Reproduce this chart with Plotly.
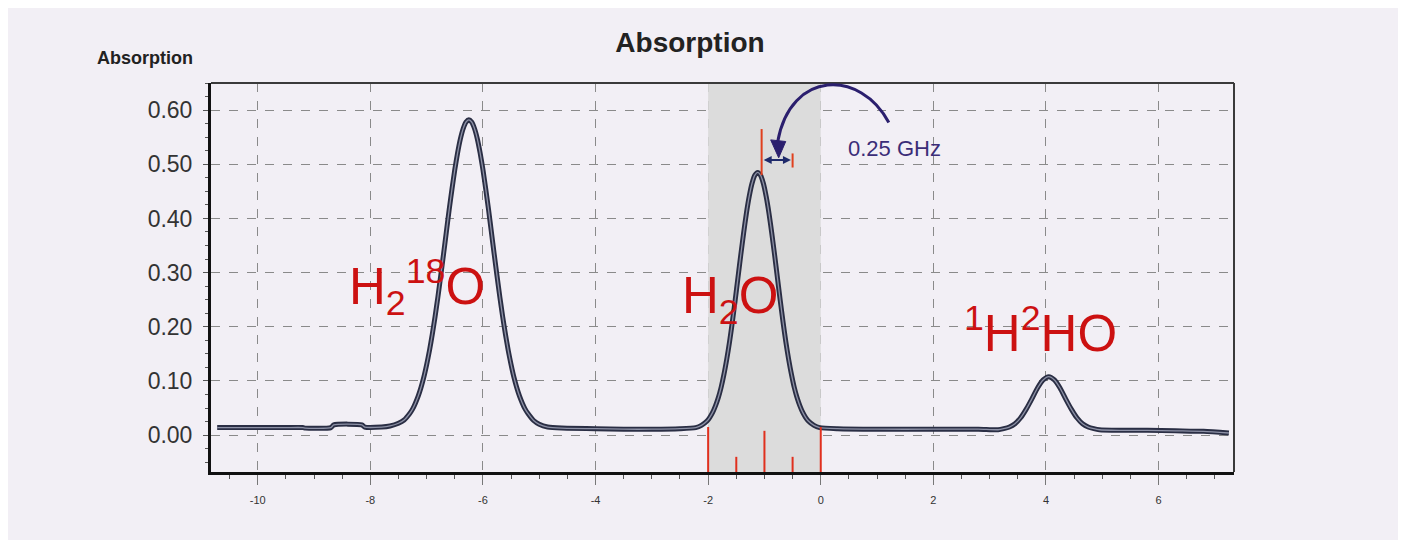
import plotly.graph_objects as go

# ---------------- data ----------------
base_left_x = [-10.72, -10.0, -9.5, -9.2, -9.15, -8.7, -8.65, -8.15, -8.1, -7.8]
base_left_y = [0.014, 0.014, 0.014, 0.014, 0.013, 0.014, 0.019, 0.019, 0.015, 0.015]

peak1_x = [-7.65, -7.5, -7.4,
           -7.3, -7.25, -7.2, -7.15, -7.1, -7.05, -7.0, -6.95, -6.9, -6.85, -6.8,
           -6.75, -6.7, -6.65, -6.6, -6.55, -6.5, -6.45, -6.4, -6.35, -6.3,
           -6.25,
           -6.2, -6.15, -6.1, -6.05, -6.0, -5.95, -5.9, -5.85, -5.8, -5.75,
           -5.7, -5.65, -5.6, -5.55, -5.5, -5.45, -5.4, -5.35, -5.3, -5.25, -5.2,
           -5.1, -5.0, -4.85]
peak1_y = [0.017, 0.022, 0.028,
           0.040, 0.048, 0.059, 0.072, 0.088, 0.107, 0.130, 0.156, 0.186, 0.219, 0.255,
           0.294, 0.334, 0.375, 0.416, 0.454, 0.490, 0.521, 0.547, 0.566, 0.578,
           0.582,
           0.578, 0.566, 0.547, 0.521, 0.490, 0.454, 0.416, 0.375, 0.334, 0.294,
           0.255, 0.219, 0.186, 0.156, 0.130, 0.107, 0.088, 0.072, 0.059, 0.048, 0.040,
           0.027, 0.020, 0.015]

base_mid_x = [-4.6, -4.0, -3.5, -3.0, -2.5]
base_mid_y = [0.013, 0.012, 0.011, 0.011, 0.012]

peak2_x = [-2.22, -2.12, -2.02, -1.97, -1.92, -1.87, -1.82, -1.77, -1.72, -1.67, -1.62,
           -1.57, -1.52, -1.47, -1.42, -1.37, -1.32, -1.27, -1.22, -1.17, -1.12,
           -1.07, -1.02, -0.97, -0.92, -0.87, -0.82, -0.77, -0.72, -0.67, -0.62,
           -0.57, -0.52, -0.47, -0.42, -0.37, -0.32, -0.27, -0.22, -0.12, -0.02]
peak2_y = [0.014, 0.018, 0.026, 0.033, 0.042, 0.054, 0.069, 0.088, 0.112, 0.140, 0.172,
           0.209, 0.249, 0.291, 0.333, 0.373, 0.410, 0.441, 0.465, 0.480, 0.485,
           0.480, 0.465, 0.441, 0.410, 0.373, 0.333, 0.291, 0.249, 0.209, 0.172,
           0.140, 0.112, 0.088, 0.069, 0.054, 0.042, 0.033, 0.026, 0.018, 0.014]

base_right_x = [0.3, 1.0, 2.0, 2.8]
base_right_y = [0.012, 0.011, 0.011, 0.011]

peak3_x = [3.15, 3.25, 3.35, 3.45, 3.55, 3.65, 3.75, 3.85, 3.95, 4.05,
           4.15, 4.25, 4.35, 4.45, 4.55, 4.65, 4.75, 4.85, 4.95]
peak3_y = [0.010, 0.012, 0.015, 0.021, 0.032, 0.048, 0.067, 0.087, 0.102, 0.108,
           0.102, 0.087, 0.067, 0.048, 0.032, 0.021, 0.015, 0.012, 0.010]

base_end_x = [5.3, 5.8, 6.3, 6.8, 7.25]
base_end_y = [0.009, 0.009, 0.008, 0.007, 0.004]

stick_x = [-2.0, -1.5, -1.0, -0.5, 0.0]
stick_top = [0.015, -0.040, 0.008, -0.040, 0.015]

band_x = [-2.0, 0.0]

x_ticks = [-10, -8, -6, -4, -2, 0, 2, 4, 6]
x_tick_labels = ["-10", "-8", "-6", "-4", "-2", "0", "2", "4", "6"]
y_ticks = [0.0, 0.1, 0.2, 0.3, 0.4, 0.5, 0.6]
y_tick_labels = ["0.00", "0.10", "0.20", "0.30", "0.40", "0.50", "0.60"]

X_RANGE = [-10.83, 7.34]
Y_RANGE = [-0.068, 0.650]

curve_x = base_left_x + peak1_x + base_mid_x + peak2_x + base_right_x + peak3_x + base_end_x
curve_y = base_left_y + peak1_y + base_mid_y + peak2_y + base_right_y + peak3_y + base_end_y

# figure geometry (page body adds an 8px offset)
W, H = 1398, 538
ML, MT, MR, MB = 203, 75, 172, 74
PW, PH = W - ML - MR, H - MT - MB

fig = go.Figure()

# grey shaded band (as filled area so it covers the grid like the original)
fig.add_trace(go.Scatter(x=[band_x[0], band_x[1], band_x[1], band_x[0], band_x[0]],
                         y=[Y_RANGE[0], Y_RANGE[0], Y_RANGE[1], Y_RANGE[1], Y_RANGE[0]],
                         mode="lines", fill="toself", fillcolor="#dcdcdc",
                         line=dict(width=0, color="#dcdcdc"),
                         hoverinfo="skip", showlegend=False))

# spectrum curve: dark outer tube + lighter core to mimic chained circle markers
fig.add_trace(go.Scatter(x=curve_x, y=curve_y, mode="lines",
                         line=dict(color="#2a2e44", width=5, shape="spline", smoothing=0.6),
                         hoverinfo="skip", showlegend=False))
fig.add_trace(go.Scatter(x=curve_x, y=curve_y, mode="lines",
                         line=dict(color="#8d91a6", width=1.3, shape="spline", smoothing=0.6),
                         hoverinfo="skip", showlegend=False))

# red stick spectrum
sx, sy = [], []
for xv, yt in zip(stick_x, stick_top):
    sx += [xv, xv, None]
    sy += [Y_RANGE[0], yt, None]
fig.add_trace(go.Scatter(x=sx, y=sy, mode="lines", line=dict(color="#e0301e", width=2),
                         hoverinfo="skip", showlegend=False))

# red markers at the peak (line position and 0.25 GHz offset)
fig.add_trace(go.Scatter(x=[-1.05, -1.05, None, -0.50, -0.50],
                         y=[0.565, 0.480, None, 0.520, 0.494], mode="lines",
                         line=dict(color="#e0401e", width=2),
                         hoverinfo="skip", showlegend=False))

# frame lines (top / right thinner)
fig.add_shape(type="line", xref="paper", yref="paper", x0=0, x1=1, y0=1, y1=1,
              line=dict(color="#3a3a3a", width=2))
fig.add_shape(type="line", xref="paper", yref="paper", x0=1, x1=1, y0=0, y1=1,
              line=dict(color="#3a3a3a", width=2))

# outer lavender panel
fig.add_shape(type="rect", xref="paper", yref="paper",
              x0=-ML / PW, x1=(1390 - ML) / PW, y0=-(532 - (MT + PH)) / PH, y1=(MT + PH) / PH,
              fillcolor="#f2eff5", line_width=0, layer="below")

# curved arrow
fig.add_shape(type="path", xref="x", yref="y",
              path="M 1.209,0.577 C 0.711,0.675 -0.533,0.675 -0.764,0.542",
              line=dict(color="#2b1f6e", width=3))
fig.add_shape(type="path", xref="x", yref="y",
              path="M -0.747,0.512 L -0.889,0.545 L -0.622,0.542 Z",
              fillcolor="#2b1f6e", line=dict(color="#2b1f6e", width=1))

# double arrow
fig.add_annotation(x=-0.53, y=0.508, ax=-1.04, ay=0.508, xref="x", yref="y",
                   axref="x", ayref="y", text="", showarrow=True, arrowhead=2,
                   arrowside="end+start", arrowsize=0.8, arrowwidth=2, arrowcolor="#1f2a6b")

fig.add_annotation(x=0.44, y=0.530, xref="x", yref="y", text="0.25 GHz",
                   showarrow=False, xanchor="left",
                   font=dict(family="Liberation Sans, Arial", size=22, color="#3b2d78"))

red_font = dict(family="Liberation Sans, Arial", size=51, color="#cc1111")
fig.add_annotation(x=-7.17, y=0.273, xref="x", yref="y", text="H<sub>2</sub><sup>18</sup>O",
                   showarrow=False, font=red_font)
fig.add_annotation(x=-1.62, y=0.250, xref="x", yref="y", text="H<sub>2</sub>O",
                   showarrow=False, font=red_font)
fig.add_annotation(x=3.90, y=0.195, xref="x", yref="y", text="<sup>1</sup>H<sup>2</sup>HO",
                   showarrow=False, font=red_font)

# small axis caption (top-left)
fig.add_annotation(x=(137 - ML) / PW, y=(MT + PH - 50) / PH, xref="paper", yref="paper",
                   xanchor="center", yanchor="middle",
                   text="<b>Absorption</b>", showarrow=False,
                   font=dict(family="Liberation Sans, Arial", size=18, color="#222"))

fig.update_layout(
    width=W, height=H,
    margin=dict(l=ML, r=MR, t=MT, b=MB, pad=0),
    paper_bgcolor="#ffffff", plot_bgcolor="#f4f1f6",
    title=dict(text="<b>Absorption</b>", x=682 / W, xanchor="center", y=1 - 34 / H, yanchor="middle",
               font=dict(family="Liberation Sans, Arial", size=28, color="#222")),
    showlegend=False,
)
fig.update_xaxes(range=X_RANGE, tickmode="array", tickvals=x_ticks, ticktext=x_tick_labels,
                 showgrid=True, gridcolor="#8a8a8a", griddash="dash", gridwidth=1,
                 zeroline=False, showline=True, linecolor="#111", linewidth=3,
                 ticks="outside", ticklen=10, tickcolor="#777", tickwidth=1,
                 ticklabelstandoff=6,
                 minor=dict(dtick=0.5, tick0=0, ticks="outside", ticklen=4, tickcolor="#555", showgrid=False),
                 tickfont=dict(family="Liberation Sans, Arial", size=11, color="#333"))
fig.update_yaxes(range=Y_RANGE, tickmode="array", tickvals=y_ticks, ticktext=y_tick_labels,
                 showgrid=True, gridcolor="#8a8a8a", griddash="dash", gridwidth=1,
                 zeroline=False, showline=True, linecolor="#111", linewidth=3,
                 ticks="outside", ticklen=5, tickcolor="#555", tickwidth=1,
                 ticklabelstandoff=6,
                 minor=dict(dtick=0.025, tick0=0, ticks="outside", ticklen=3, tickcolor="#555", showgrid=False),
                 tickfont=dict(family="Liberation Sans, Arial", size=23, color="#333"))

fig.write_html("out.html")
